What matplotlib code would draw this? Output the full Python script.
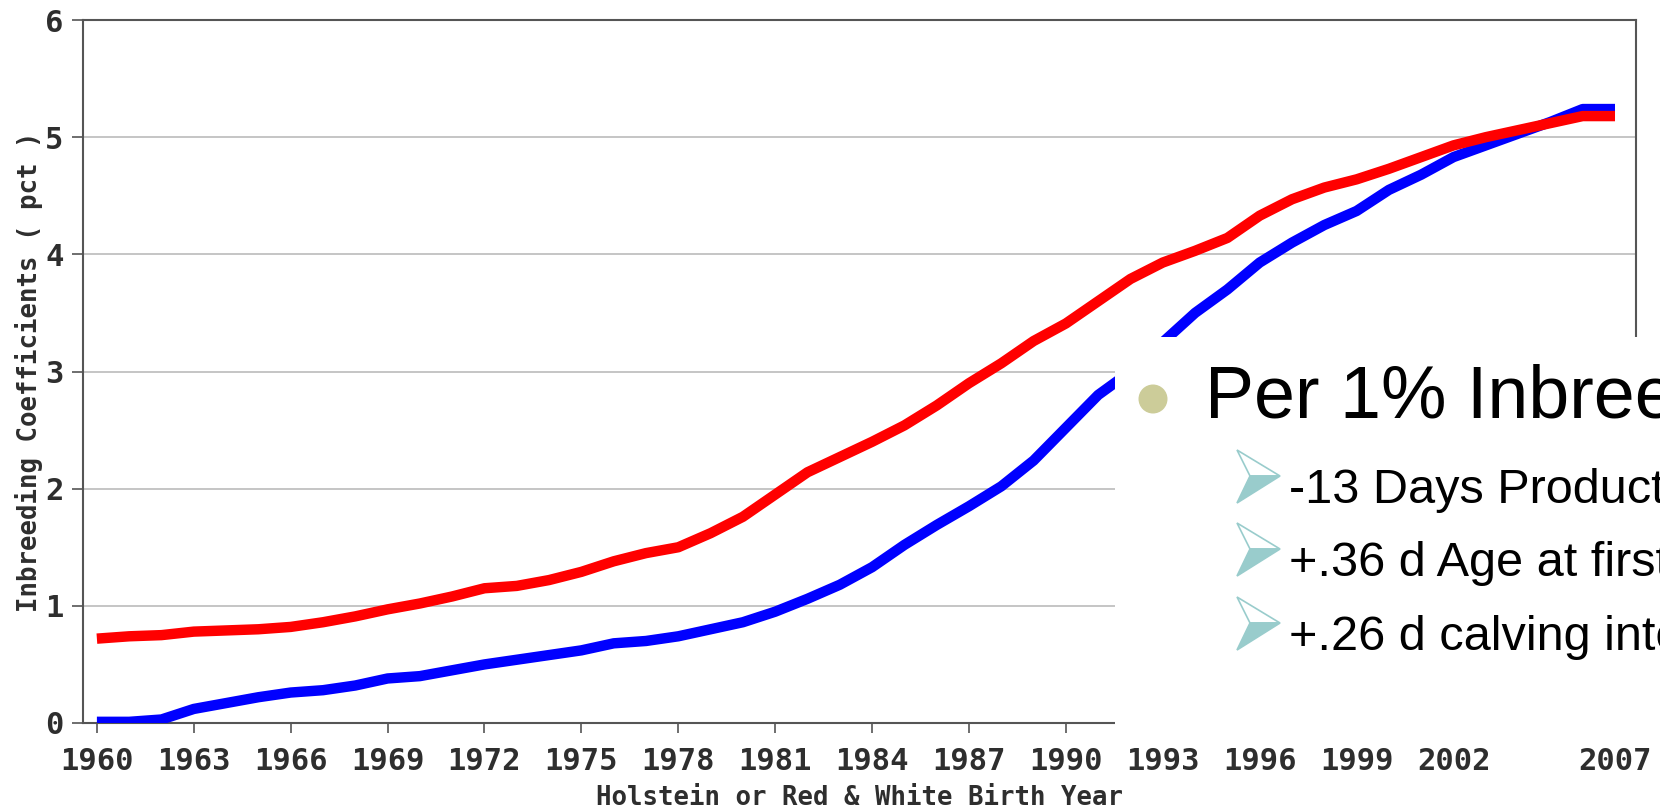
import matplotlib
matplotlib.use("Agg")
import matplotlib.pyplot as plt
from matplotlib.font_manager import FontProperties
from matplotlib.patches import Rectangle, Circle, Polygon

# Average inbreeding coefficient (%) by birth year
years = list(range(1960, 2008))
inbreeding_blue = [0.01, 0.01, 0.03, 0.12, 0.17, 0.22, 0.26, 0.28, 0.32, 0.38,
                   0.40, 0.45, 0.50, 0.54, 0.58, 0.62, 0.68, 0.70, 0.74, 0.80,
                   0.86, 0.95, 1.06, 1.18, 1.33, 1.52, 1.69, 1.85, 2.02, 2.24,
                   2.52, 2.80, 3.00, 3.25, 3.50, 3.70, 3.93, 4.10, 4.25, 4.37,
                   4.55, 4.68, 4.83, 4.93, 5.03, 5.13, 5.24, 5.24]
inbreeding_red = [0.72, 0.74, 0.75, 0.78, 0.79, 0.80, 0.82, 0.86, 0.91, 0.97,
                  1.02, 1.08, 1.15, 1.17, 1.22, 1.29, 1.38, 1.45, 1.50, 1.62,
                  1.76, 1.95, 2.14, 2.27, 2.40, 2.54, 2.71, 2.90, 3.07, 3.26,
                  3.41, 3.60, 3.79, 3.93, 4.03, 4.14, 4.33, 4.47, 4.57, 4.64,
                  4.73, 4.83, 4.93, 5.00, 5.06, 5.12, 5.18, 5.18]

x_ticks = [1960, 1963, 1966, 1969, 1972, 1975, 1978, 1981, 1984, 1987,
           1990, 1993, 1996, 1999, 2002, 2007]
y_ticks = [0, 1, 2, 3, 4, 5, 6]

x_title = "Holstein or Red & White Birth Year"
y_title = "Inbreeding Coefficients ( pct )"

heading = "Per 1% Inbreeding"
effects = ["-13 Days Productive Life",
           "+.36 d Age at first calving",
           "+.26 d calving interval"]

W, H = 1660, 810
fig = plt.figure(figsize=(W / 100, H / 100), dpi=100, facecolor="white")

# ---- chart -------------------------------------------------------------
ax = fig.add_axes([83 / W, 1 - 723 / H, (1636 - 83) / W, (723 - 20) / H])
ax.set_xlim(1959.57, 2007.65)
ax.set_ylim(0, 6)

ax.plot(years, inbreeding_blue, color="#0000ff", lw=7.5,
        solid_capstyle="butt", solid_joinstyle="round", zorder=3)
ax.plot(years, inbreeding_red, color="#ff0000", lw=7.5,
        solid_capstyle="butt", solid_joinstyle="round", zorder=4)

ax.set_xticks(x_ticks)
ax.set_xticklabels([str(t) for t in x_ticks])
ax.set_yticks(y_ticks)
ax.set_yticklabels([str(t) for t in y_ticks])

tick_font = FontProperties(family="DejaVu Sans Mono", weight="bold", size=22)
for lab in ax.get_xticklabels() + ax.get_yticklabels():
    lab.set_fontproperties(tick_font)
    lab.set_color("#2e2e2e")

ax.tick_params(axis="x", length=7.2, width=1.2, color="#555555", pad=10)
ax.tick_params(axis="y", length=8, width=1.2, color="#555555", pad=6)

ax.yaxis.grid(True, color="#bbbbbb", lw=1.2)
ax.set_axisbelow(True)
for sp in ax.spines.values():
    sp.set_color("#555555")
    sp.set_linewidth(1.5)

label_font = dict(family="DejaVu Sans Mono", weight="bold", size=18.5, color="#2e2e2e")
ax.set_xlabel(x_title, **label_font)
ax.set_ylabel(y_title, **label_font)
ax.xaxis.set_label_coords(0.5, -0.088)
ax.yaxis.set_label_coords(-0.0258, 0.5)

# ---- slide callout on top of the chart (pixel coordinates) --------------
ov = fig.add_axes([0, 0, 1, 1], zorder=5)
ov.set_xlim(0, W)
ov.set_ylim(H, 0)
ov.axis("off")
ov.patch.set_visible(False)

ov.add_patch(Rectangle((1115, 337), W - 1115, 737 - 337,
                       facecolor="white", edgecolor="none"))
ov.add_patch(Circle((1153, 399), 14.5, facecolor="#cccc99", edgecolor="none"))
ov.text(1205, 418, heading, fontsize=53, family="Liberation Sans",
        color="black", ha="left", va="baseline", clip_on=False)

teal = "#99cccc"
baselines = [503, 576, 650]
for b, txt in zip(baselines, effects):
    ov.add_patch(Polygon([(1237, b - 53), (1280, b - 27), (1250, b - 27)],
                         closed=True, facecolor="white", edgecolor=teal, lw=1.2))
    ov.add_patch(Polygon([(1250, b - 27), (1280, b - 27), (1237, b)],
                         closed=True, facecolor=teal, edgecolor=teal, lw=1.2))
    ov.text(1289, b, txt, fontsize=35, family="Liberation Sans",
            color="black", ha="left", va="baseline", clip_on=False)

fig.savefig("out.png", dpi=100, facecolor="white")
